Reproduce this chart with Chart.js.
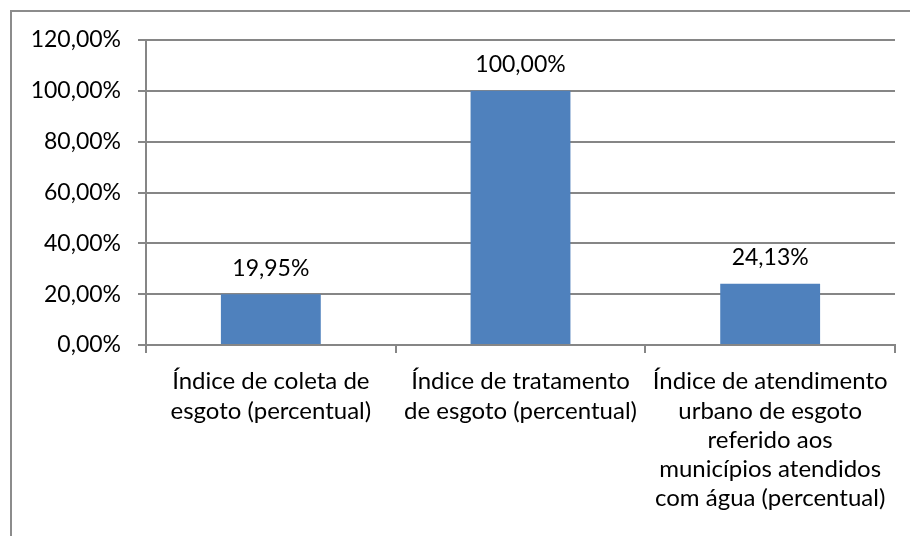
<!DOCTYPE html>
<html>
<head>
<meta charset="utf-8">
<script src="https://cdn.jsdelivr.net/npm/chart.js@4"></script>
<style>
	html, body { margin: 0; padding: 0; background: #fff; }
	#wrap { position: relative; width: 910px; height: 536px; }
</style>
</head>
<body>
<div id="wrap"><canvas id="myChart" width="910" height="536"></canvas></div>
<script>
var categories = [
	['Índice de coleta de', 'esgoto (percentual)'],
	['Índice de tratamento', 'de esgoto (percentual)'],
	['Índice de atendimento', 'urbano de esgoto', 'referido aos', 'municípios atendidos', 'com água (percentual)']
];
var values = [19.95, 100, 24.13];
var valueLabels = ['19,95%', '100,00%', '24,13%'];
var yTicks = [0, 20, 40, 60, 80, 100, 120];

var fontFamily = 'Lato, "Open Sans", sans-serif';
var gridColor = '#868686';

// moldura cinza do gráfico (esquerda e topo)
var framePlugin = {
	id: 'frame',
	beforeDraw: function(chart) {
		var ctx = chart.ctx;
		ctx.save();
		ctx.strokeStyle = '#8c8c8c';
		ctx.lineWidth = 2;
		ctx.beginPath();
		ctx.moveTo(11, chart.height);
		ctx.lineTo(11, 11);
		ctx.lineTo(chart.width, 11);
		ctx.stroke();
		ctx.restore();
	}
};

// rótulos de valor acima das barras
var valuePlugin = {
	id: 'values',
	afterDatasetsDraw: function(chart) {
		var ctx = chart.ctx;
		var meta = chart.getDatasetMeta(0);
		ctx.save();
		ctx.font = '23px ' + fontFamily;
		ctx.fillStyle = '#000';
		ctx.textAlign = 'center';
		ctx.textBaseline = 'middle';
		meta.data.forEach(function(bar, i) {
			ctx.fillText(valueLabels[i], bar.x, bar.y - 26);
		});
		ctx.restore();
	}
};

var ctx = document.getElementById('myChart');
var myChart = new Chart(ctx, {
	type: 'bar',
	data: {
		labels: categories,
		datasets: [{
			data: values,
			backgroundColor: '#4F81BD',
			borderWidth: 0,
			categoryPercentage: 1,
			barPercentage: 0.4
		}]
	},
	options: {
		responsive: false,
		animation: false,
		events: [],
		layout: { padding: { left: 0, top: 40, right: 15, bottom: 0 } },
		plugins: {
			legend: { display: false },
			tooltip: { enabled: false }
		},
		scales: {
			x: {
				offset: true,
				grid: {
					offset: true,
					drawOnChartArea: false,
					color: gridColor,
					tickLength: 8,
					lineWidth: 2
				},
				border: { color: gridColor, width: 2 },
				ticks: {
					color: '#000',
					font: { family: fontFamily, size: 24, lineHeight: 1.22 },
					maxRotation: 0,
					autoSkip: false,
					padding: 14
				},
				afterFit: function(scale) { scale.height = 536 - 345; }
			},
			y: {
				min: 0,
				max: 120,
				afterBuildTicks: function(scale) {
					scale.ticks = yTicks.map(function(v) { return { value: v }; });
				},
				grid: {
					color: gridColor,
					tickLength: 8,
					lineWidth: 2
				},
				border: { color: gridColor, width: 2 },
				ticks: {
					color: '#000',
					font: { family: fontFamily, size: 23 },
					padding: 17,
					callback: function(v) { return v.toFixed(2).replace('.', ',') + '%'; }
				},
				afterFit: function(scale) { scale.width = 146; }
			}
		}
	},
	plugins: [framePlugin, valuePlugin]
});
</script>
</body>
</html>
